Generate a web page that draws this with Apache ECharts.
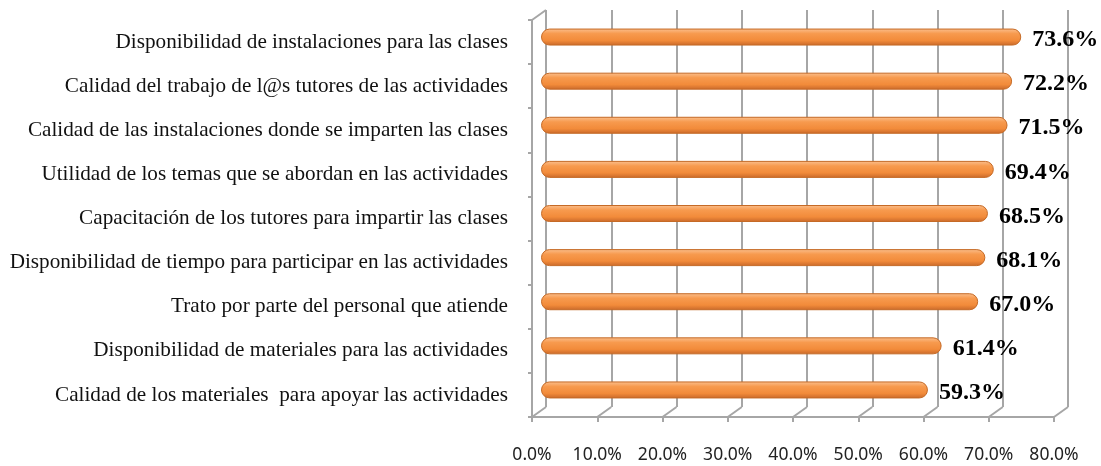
<!DOCTYPE html>
<html>
<head>
<meta charset="utf-8">
<script src="https://cdn.jsdelivr.net/npm/echarts@6/dist/echarts.min.js"></script>
<style>
  html, body { margin: 0; padding: 0; background: #fff; }
  #chart { width: 1101px; height: 466px; }
</style>
</head>
<body>
<div id="chart"></div>
<script>
const categories = [
  'Disponibilidad de instalaciones para las clases',
  'Calidad del trabajo de l@s tutores de las actividades',
  'Calidad de las instalaciones donde se imparten las clases',
  'Utilidad de los temas que se abordan en las actividades',
  'Capacitación de los tutores para impartir las clases',
  'Disponibilidad de tiempo para participar en las actividades',
  'Trato por parte del personal que atiende',
  'Disponibilidad de materiales para las actividades',
  'Calidad de los materiales  para apoyar las actividades'
];
const values = [73.6, 72.2, 71.5, 69.4, 68.5, 68.1, 67.0, 61.4, 59.3];
const tickValues = [0, 10, 20, 30, 40, 50, 60, 70, 80];

// depth offset of the 3D back wall (px)
const DX = 14, DY = -10;
const gridColor = '#a6a6a6';

const chart = echarts.init(document.getElementById('chart'));

const option = {
  animation: false,
  grid: [
    // bars
    { left: 541, width: 522, top: 15, bottom: 54 },
    // front walls / axes
    { left: 532, width: 522, top: 20, bottom: 49 },
    // back wall
    { left: 532 + DX, width: 522, top: 20 + DY, bottom: 49 - DY }
  ],
  xAxis: [
    { gridIndex: 0, type: 'value', min: 0, max: 80, interval: 10, show: false },
    {
      gridIndex: 1, type: 'value', min: 0, max: 80, interval: 10,
      axisLine: { show: true, lineStyle: { color: gridColor, width: 2 } },
      axisTick: { show: true, length: 5, lineStyle: { color: gridColor, width: 2 } },
      splitLine: { show: false },
      axisLabel: {
        margin: 29, color: '#222', fontFamily: 'Noto Sans', fontSize: 17.5,
        formatter: v => v.toFixed(1) + '%'
      }
    },
    {
      gridIndex: 2, type: 'value', min: 0, max: 80, interval: 10,
      axisLine: { show: false }, axisTick: { show: false }, axisLabel: { show: false },
      splitLine: { show: true, lineStyle: { color: gridColor, width: 2 } }
    }
  ],
  yAxis: [
    { gridIndex: 0, type: 'category', data: categories, inverse: true, show: false },
    {
      gridIndex: 1, type: 'category', data: categories, inverse: true,
      axisLine: { show: true, lineStyle: { color: gridColor, width: 2 } },
      axisTick: { show: true, length: 4, lineStyle: { color: gridColor, width: 2 } },
      axisLabel: {
        margin: 24, color: '#111', fontFamily: 'Liberation Serif', fontSize: 21.2
      }
    },
    { gridIndex: 2, type: 'category', data: categories, inverse: true, show: false }
  ],
  series: [
    {
      // diagonal edges joining front and back walls
      type: 'custom',
      xAxisIndex: 1, yAxisIndex: 1,
      silent: true, z: 1,
      data: tickValues.map(v => [v, categories.length - 1]),
      renderItem: function (params, api) {
        const p = api.coord([api.value(0), api.value(1)]);
        const bh = api.size([0, 1])[1];
        const y0 = p[1] + bh / 2;
        const children = [{
          type: 'line',
          shape: { x1: p[0], y1: y0, x2: p[0] + DX, y2: y0 + DY },
          style: { stroke: gridColor, lineWidth: 2 }
        }];
        if (params.dataIndex === 0) {
          const yTop = y0 - bh * categories.length;
          children.push({
            type: 'line',
            shape: { x1: p[0], y1: yTop, x2: p[0] + DX, y2: yTop + DY },
            style: { stroke: gridColor, lineWidth: 2 }
          });
        }
        return { type: 'group', children: children };
      }
    },
    {
      type: 'bar',
      xAxisIndex: 0, yAxisIndex: 0,
      data: values,
      barWidth: 17,
      z: 3,
      itemStyle: {
        borderRadius: 8,
        borderColor: '#c56a26',
        borderWidth: 1,
        color: new echarts.graphic.LinearGradient(0, 0, 0, 1, [
          { offset: 0, color: '#fbc08f' },
          { offset: 0.3, color: '#f79a4e' },
          { offset: 0.7, color: '#f28b3a' },
          { offset: 1, color: '#c8682a' }
        ])
      },
      label: {
        show: true, position: 'right', distance: 11, offset: [0, 3],
        color: '#000', fontFamily: 'Liberation Serif', fontWeight: 'bold', fontSize: 24,
        formatter: p => p.value.toFixed(1) + '%'
      }
    }
  ]
};

chart.setOption(option);
</script>
</body>
</html>
